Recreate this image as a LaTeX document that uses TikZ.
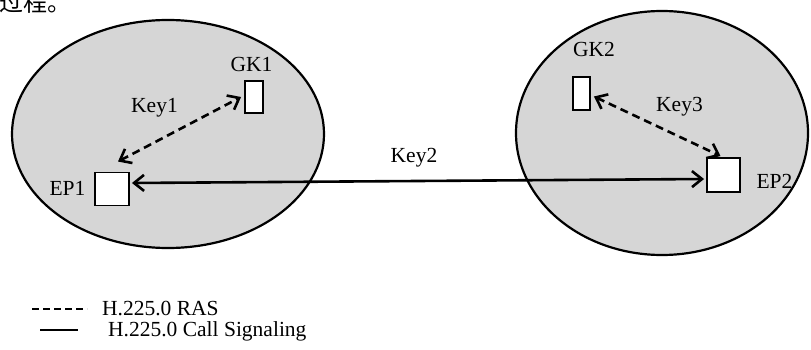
\documentclass[tikz,border=0pt]{standalone}
\usepackage{fontspec}
\setmainfont{Liberation Serif}
\newfontfamily\cjk{Noto Sans CJK SC}
\usepackage{tikz}
\usetikzlibrary{arrows.meta}

\begin{document}
\begin{tikzpicture}[x=1pt,y=-1pt,
                    font=\fontsize{21.5}{24}\selectfont,
                    >={Straight Barb[length=10pt,width=16pt]},
                    zone/.style={draw=black,line width=2.2pt,fill=black!16},
                    station/.style={draw=black,fill=white,line width=1.9pt,inner sep=0pt},
                    tag/.style={anchor=base,inner sep=0pt},
                    ras/.style={<->,dash pattern=on 8pt off 5pt,line width=2.6pt},
                    call/.style={<->,line width=2.6pt}
                ]
                \useasboundingbox (0,0) rectangle (811,350);
                \node[anchor=base west,inner sep=0pt,font=\cjk\fontsize{24}{24}\selectfont] (head) at (-1,12) {过程。};
                % two zones
                \draw[zone] (168,134) ellipse [x radius=156, y radius=114];
                \draw[zone] (662,133) ellipse [x radius=146, y radius=122];
                % gatekeepers and endpoints
                \foreach \n/\x/\y/\w/\h in {gk1/254/97/18/32, ep1/112/189/34/33, gk2/581.5/93.5/17/33, ep2/723.5/175/33/34}
                    {
                    \node[station,minimum width=\w pt,minimum height=\h pt] (\n) at (\x,\y) {};
                    }
                % labels
                \foreach \t/\x/\y in {GK1/251.5/72, Key1/154.5/113, EP1/67.5/195, Key2/414/163, GK2/594/57, Key3/679.5/112, EP2/774.5/188}
                    {
                    \node[tag] (l\t) at (\x,\y) {\t};
                    }
                % signalling
                \draw[ras] ([xshift=6pt,yshift=10pt]ep1.north) -- ([xshift=-3pt]gk1.west);
                \draw[ras] ([xshift=3pt,yshift=-3pt]gk2.east) -- ([xshift=-3pt,yshift=1pt]ep2.north);
                \draw[call] ([xshift=2pt,yshift=6pt]ep1.east) -- ([xshift=-2pt,yshift=-4pt]ep2.west);
                % legend
                \draw[dash pattern=on 7pt off 4pt,line width=1.3pt] (32,309) -- (87,309);
                \node[anchor=base west,inner sep=0pt] (kras) at (102,315) {H.225.0 RAS};
                \draw[line width=1.3pt] (40,330) -- (78,330);
                \node[anchor=base west,inner sep=0pt] (kcall) at (108,336) {H.225.0 Call Signaling};
                \end{tikzpicture}
\end{document}
